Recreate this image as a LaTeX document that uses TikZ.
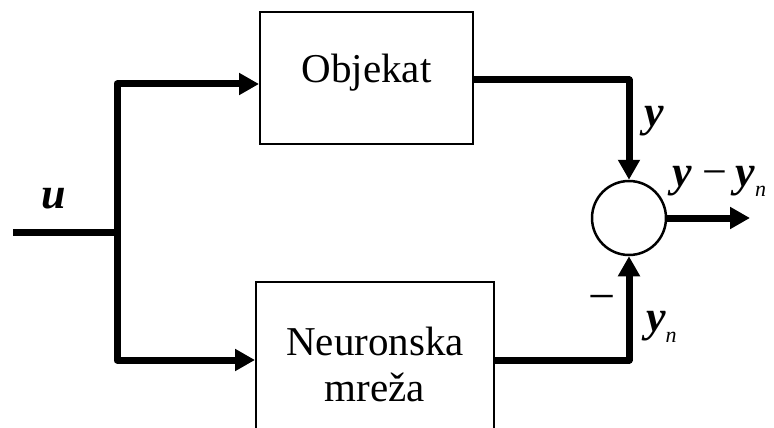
\documentclass[tikz,border=0pt]{standalone}
\usepackage{fontspec}
\setmainfont{Liberation Serif}
\usetikzlibrary{arrows.meta}
\begin{document}
\begin{tikzpicture}[x=1pt,y=-1pt,
  block/.style={draw, line width=2pt, rectangle, inner sep=0pt},
  sumnode/.style={draw, circle, line width=2.5pt, minimum size=74pt, inner sep=0pt},
  signal/.style={line width=7pt, line join=round},
  arr/.style={signal, -{Triangle[length=20pt,width=21pt]}},
  blocktext/.style={font=\fontsize{41}{46}\selectfont, align=center, inner sep=0pt},
  var/.style={font=\fontsize{44}{48}\selectfont\bfseries\itshape, inner sep=0pt},
  plain/.style={font=\fontsize{48}{50}\selectfont, inner sep=0pt},
]
\useasboundingbox (0,0) rectangle (774,428);

% blocks
\node[block, minimum width=213pt, minimum height=132pt] (obj) at (366.5,78) {};
\node[blocktext, anchor=base] (objtxt) at (366.5,82) {Objekat};
\node[block, minimum width=238pt, minimum height=156pt] (nn) at (375,360) {};
\node[blocktext, anchor=north] (nntxt) at (375,327) {Neuronska\\mreža};
\node[sumnode] (sum) at (629,218) {};

% signal points
\coordinate (in) at (13,232);
\coordinate (split) at (117,232);
\coordinate (ytop) at (0,84);
\coordinate (yobj) at (0,80);
\coordinate (out) at (750,218);

% connectors
\draw[signal] (in) -- (split);
\draw[arr] (split) |- (obj.west |- ytop);
\draw[arr] (split) |- (nn.west);
\draw[arr] (obj.east |- yobj) -| (sum.north);
\draw[arr] (nn.east) -| (sum.south);
\draw[arr] (sum.east) -- (out);

% signal labels
\node[var, anchor=base west] (lu) at (41,208) {u};
\node[var, anchor=base west] (ly) at (644,126) {y};
\node[var, anchor=base west] (lerr) at (672,186)
  {y\kern11pt{\mdseries\upshape −}\kern8pt y\raisebox{-10pt}{\fontsize{22}{22}\selectfont\mdseries n}};
\node[plain, anchor=center] (lminus) at (602,304) {−};
\node[var, anchor=base west] (lyn) at (646,331)
  {y\raisebox{-11pt}{\fontsize{22}{22}\selectfont\mdseries n}};
\end{tikzpicture}
\end{document}
